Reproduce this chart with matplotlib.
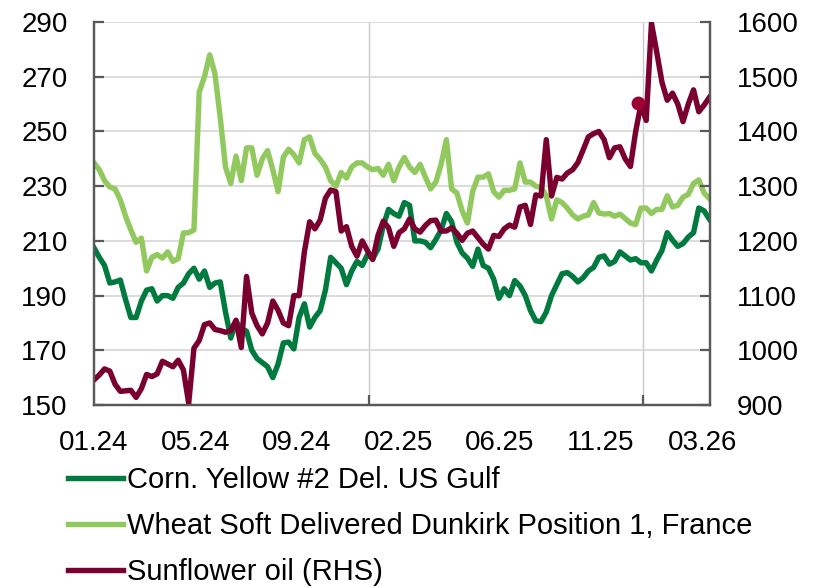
import numpy as np
import pandas as pd
import matplotlib
matplotlib.use("Agg")
import matplotlib.pyplot as plt

plt.rcParams['font.family'] = ['Liberation Sans', 'DejaVu Sans']

# weekly observations starting 2024-01-01
dates = pd.date_range("2024-01-01", periods=118, freq="7D")

corn = [207.4, 204, 201, 194.6, 195, 195.7, 188.5, 182, 182, 188,
        192, 192.5, 188, 190, 190, 189, 193, 194.6, 198, 200,
        196, 199, 193, 194.6, 195, 184, 174.5, 180.5, 178, 177,
        170, 167, 165.5, 164, 160, 165, 172.7, 173, 170.5, 182,
        187, 178.5, 182, 184.5, 192, 204, 202, 200, 194, 199,
        202.5, 201, 205, 203.5, 207, 215.5, 221.5, 220, 219, 224,
        223, 210, 210, 209.5, 207.5, 210.5, 214, 220, 217, 209.5,
        205.6, 203.7, 200.7, 207, 201, 200, 196, 189, 192.5, 190,
        195.5, 193.5, 190, 184.5, 180.8, 180.5, 184, 190, 194, 198,
        198.4, 197, 195, 196.5, 199, 200.3, 204, 204.5, 201.5, 202.5,
        206, 204.5, 203, 203.5, 202, 202, 199, 203, 206.5, 213,
        210.3, 208, 209, 211.4, 213, 222, 221, 218]

wheat = [238.5, 236, 232, 229.7, 229, 225, 219, 214, 209.5, 211,
         199, 204, 205, 203.7, 206, 202.5, 203.5, 212.9, 213, 214,
         264.4, 270, 278, 271, 255, 237, 231, 241, 232, 244,
         244, 234, 240, 243, 236, 228, 240.6, 243.5, 241.5, 238.5,
         247, 248, 242, 239.8, 237, 232, 230, 235, 233, 237,
         238.5, 238.5, 237, 236, 236.5, 234, 238, 232, 237, 240.5,
         237, 235, 238, 233.3, 229, 231.5, 238, 247, 229, 227.5,
         221, 216.5, 228, 233.3, 233.3, 234.5, 228, 226, 228.5, 228.5,
         229, 238.5, 231.5, 231.5, 230, 229.5, 226.5, 218, 225, 224,
         222, 219.5, 218, 219, 219.5, 224, 220.2, 219.8, 220, 219,
         219.8, 218.2, 216.5, 216, 222, 222, 220, 221.5, 221.5, 226.5,
         222.4, 223, 226, 227, 231, 232.3, 227.5, 225.5]

sunflower = [946, 955, 966, 962, 938, 925, 926, 927, 914, 930,
             956, 952, 957, 980, 975, 970, 982, 964, 903, 1004,
             1018, 1047, 1050, 1038, 1036, 1033, 1036, 1055, 1005, 1135,
             1068, 1045, 1030, 1050, 1090, 1073, 1050, 1045, 1100, 1100,
             1180, 1235, 1222, 1238, 1278, 1293, 1290, 1218, 1226, 1190,
             1172, 1200, 1182, 1166, 1210, 1236, 1224, 1190, 1215, 1222,
             1240, 1222, 1216, 1228, 1237, 1238, 1218, 1218, 1224, 1214,
             1201, 1214, 1218, 1206, 1194, 1185, 1210, 1208, 1222, 1229,
             1225, 1262, 1265, 1230, 1284, 1282, 1385, 1282, 1316, 1313,
             1324, 1330, 1343, 1366, 1390, 1396, 1400, 1385, 1352, 1370,
             1372, 1350, 1336, 1400, 1450, 1420, 1598, 1545, 1490, 1457,
             1470, 1450, 1418, 1450, 1476, 1436, 1448, 1462]

marker_date = "2025-12-25"
marker_value = 1452

tick_dates = ["2024-01-01", "2024-05-15", "2024-09-27", "2025-02-09",
              "2025-06-24", "2025-11-06", "2026-03-21"]
tick_labels = ["01.24", "05.24", "09.24", "02.25", "06.25", "11.25", "03.26"]
year_breaks = ["2025-01-01", "2026-01-01"]

c_corn = "#007A3F"
c_wheat = "#92C95F"
c_sun = "#7A0030"
spine_c = "#595959"
grid_c = "#D9D9D9"

fig = plt.figure(figsize=(8.17, 5.87), dpi=100)
ax = fig.add_axes([0.1151, 0.31, 0.754, 0.6525])
ax2 = ax.twinx()

l_corn, = ax.plot(dates, corn, color=c_corn, lw=3.9, zorder=3,
                  solid_joinstyle="round", label="Corn. Yellow #2 Del. US Gulf")
l_wheat, = ax.plot(dates, wheat, color=c_wheat, lw=3.9, zorder=2,
                   solid_joinstyle="round",
                   label="Wheat Soft Delivered Dunkirk Position 1, France")
l_sun, = ax2.plot(dates, sunflower, color=c_sun, lw=3.9,
                  solid_joinstyle="round", label="Sunflower oil (RHS)")
ax2.plot(pd.to_datetime([marker_date]), [marker_value], "o", color="#9C0032",
         ms=10, mew=0, zorder=5)

ax.set_ylim(150, 290)
ax.set_yticks(np.arange(150, 291, 20))
ax2.set_ylim(900, 1600)
ax2.set_yticks(np.arange(900, 1601, 100))
ax.set_xlim(pd.Timestamp("2024-01-01"), pd.Timestamp("2026-03-31"))

ax.set_xticks(pd.to_datetime(tick_dates))
ax.set_xticklabels(tick_labels)
ax.set_xticks(pd.to_datetime(year_breaks), minor=True)

ax.grid(axis="y", color=grid_c, lw=1.3, zorder=0)
ax.grid(axis="x", which="minor", color="#C8C8C8", lw=1.0, zorder=0)
ax.grid(axis="x", which="major", visible=False)
ax.set_axisbelow(True)

for a in (ax, ax2):
    a.spines["top"].set_visible(False)
    for s in ("left", "right", "bottom"):
        a.spines[s].set_color(spine_c)
        a.spines[s].set_linewidth(1.6)

ax.tick_params(axis="y", direction="in", length=7, width=1.6, color=spine_c,
               labelsize=20, pad=19)
ax2.tick_params(axis="y", direction="in", length=7, width=1.6, color=spine_c,
                labelsize=20, pad=19)
ax.tick_params(axis="x", which="major", length=0, labelsize=20, pad=18)
ax.tick_params(axis="x", which="minor", direction="in", length=7, width=1.6,
               color=spine_c)

fig.legend(handles=[l_corn, l_wheat, l_sun], loc="upper left",
           bbox_to_anchor=(68 / 817, 1 - 466 / 587), frameon=False,
           fontsize=21, handlelength=1.88, handletextpad=0.14,
           labelspacing=0.62, borderpad=0, borderaxespad=0)

fig.savefig("out.png", dpi=100)
